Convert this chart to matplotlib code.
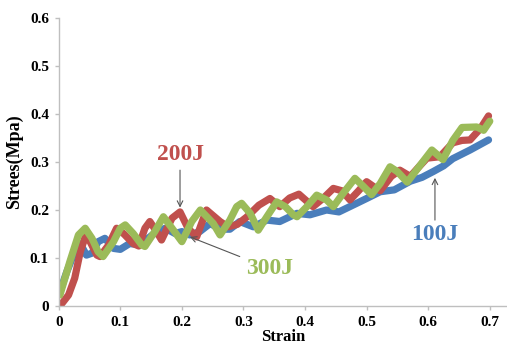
import matplotlib
matplotlib.use("Agg")
import matplotlib.pyplot as plt

# 100J (blue)
x_100 = [0.002, 0.013, 0.026, 0.035, 0.045, 0.054, 0.064, 0.075, 0.089, 0.1, 0.115, 0.13,
         0.145, 0.159, 0.173, 0.189, 0.2, 0.213, 0.229, 0.246, 0.262, 0.278, 0.294, 0.316,
         0.338, 0.359, 0.387, 0.408, 0.435, 0.455, 0.484, 0.5, 0.522, 0.545, 0.571, 0.59,
         0.608, 0.625, 0.64, 0.668, 0.698]
y_100 = [0.03, 0.071, 0.113, 0.13, 0.106, 0.11, 0.134, 0.141, 0.12, 0.118, 0.13, 0.128,
         0.141, 0.155, 0.162, 0.151, 0.155, 0.148, 0.155, 0.172, 0.16, 0.16, 0.176, 0.165,
         0.179, 0.176, 0.193, 0.19, 0.2, 0.196, 0.214, 0.224, 0.238, 0.242, 0.26, 0.268,
         0.28, 0.292, 0.307, 0.325, 0.346]

# 200J (red)
x_200 = [0.002, 0.016, 0.026, 0.035, 0.043, 0.051, 0.062, 0.067, 0.081, 0.094, 0.106, 0.121,
         0.13, 0.14, 0.148, 0.159, 0.167, 0.184, 0.197, 0.21, 0.224, 0.24, 0.262, 0.275,
         0.29, 0.305, 0.325, 0.343, 0.359, 0.375, 0.39, 0.413, 0.43, 0.446, 0.46, 0.473,
         0.487, 0.5, 0.51, 0.522, 0.54, 0.554, 0.571, 0.585, 0.598, 0.619, 0.64, 0.655,
         0.668, 0.685, 0.698]
y_200 = [0.0, 0.023, 0.058, 0.113, 0.144, 0.134, 0.106, 0.103, 0.127, 0.162, 0.15, 0.13,
         0.125, 0.162, 0.176, 0.155, 0.1375, 0.183, 0.196, 0.162, 0.144, 0.2, 0.176, 0.165,
         0.17, 0.185, 0.21, 0.224, 0.207, 0.225, 0.233, 0.207, 0.225, 0.245, 0.24, 0.221,
         0.24, 0.259, 0.25, 0.24, 0.27, 0.283, 0.27, 0.29, 0.308, 0.311, 0.34, 0.345,
         0.346, 0.37, 0.396]

# 300J (green)
x_300 = [0.002, 0.018, 0.032, 0.043, 0.054, 0.064, 0.072, 0.089, 0.1, 0.108, 0.121, 0.135,
         0.14, 0.156, 0.17, 0.184, 0.2, 0.216, 0.23, 0.251, 0.262, 0.278, 0.289, 0.297,
         0.311, 0.324, 0.338, 0.354, 0.368, 0.381, 0.387, 0.403, 0.419, 0.435, 0.446,
         0.462, 0.481, 0.495, 0.508, 0.522, 0.538, 0.55, 0.566, 0.585, 0.606, 0.624,
         0.64, 0.655, 0.679, 0.69, 0.7]
y_300 = [0.023, 0.092, 0.148, 0.162, 0.141, 0.113, 0.103, 0.134, 0.162, 0.169, 0.151, 0.127,
         0.124, 0.155, 0.186, 0.162, 0.134, 0.176, 0.2, 0.172, 0.148, 0.179, 0.207, 0.214,
         0.193, 0.158, 0.186, 0.217, 0.207, 0.19, 0.186, 0.207, 0.231, 0.221, 0.207,
         0.235, 0.266, 0.249, 0.232, 0.255, 0.29, 0.28, 0.258, 0.29, 0.325, 0.305,
         0.345, 0.372, 0.373, 0.366, 0.385]

x_ticks = [0, 0.1, 0.2, 0.3, 0.4, 0.5, 0.6, 0.7]
x_ticklabels = ["0", "0.1", "0.2", "0.3", "0.4", "0.5", "0.6", "0.7"]
y_ticks = [0, 0.1, 0.2, 0.3, 0.4, 0.5, 0.6]
y_ticklabels = ["0", "0.1", "0.2", "0.3", "0.4", "0.5", "0.6"]

BLUE = "#4A7EBB"
RED = "#C0504D"
GREEN = "#9BBB59"
GRAY = "#BFBFBF"

plt.rcParams['font.family'] = ['Liberation Serif', 'DejaVu Serif']

fig = plt.figure(figsize=(5.07, 3.49), dpi=100)
ax = fig.add_axes([0.1158, 0.1232, 0.8842, 0.8252])

lw = 5.2
for xs, ys, c in [(x_100, y_100, BLUE), (x_200, y_200, RED), (x_300, y_300, GREEN)]:
    ax.plot(xs, ys, color=c, lw=lw, solid_joinstyle='round', solid_capstyle='round')

ax.set_xlim(0, 0.728)
ax.set_ylim(0, 0.6)
ax.set_xticks(x_ticks)
ax.set_xticklabels(x_ticklabels)
ax.set_yticks(y_ticks)
ax.set_yticklabels(y_ticklabels)

for s in ["top", "right"]:
    ax.spines[s].set_visible(False)
for s in ["left", "bottom"]:
    ax.spines[s].set_color(GRAY)
    ax.spines[s].set_linewidth(1.0)

ax.tick_params(axis='both', colors=GRAY, length=3, width=1.0, direction='out', pad=4)
for lab in ax.get_xticklabels() + ax.get_yticklabels():
    lab.set_color("black")
    lab.set_fontweight("bold")
    lab.set_fontsize(11)

ax.set_xlabel("Strain", fontsize=12, fontweight="bold", labelpad=0)
ax.set_ylabel("Strees(Mpa)", fontsize=13, fontweight="bold", labelpad=5)

arrow = dict(arrowstyle="->", color="#555555", lw=0.8, shrinkA=0, shrinkB=0)
ax.annotate("", xy=(0.197, 0.205), xytext=(0.197, 0.283), arrowprops=arrow)
ax.text(0.197, 0.315, "200J", color=RED, fontsize=17, fontweight="bold", ha="center", va="center")

ax.annotate("", xy=(0.213, 0.144), xytext=(0.294, 0.103), arrowprops=arrow)
ax.text(0.343, 0.079, "300J", color=GREEN, fontsize=17, fontweight="bold", ha="center", va="center")

ax.annotate("", xy=(0.611, 0.267), xytext=(0.611, 0.179), arrowprops=arrow)
ax.text(0.611, 0.148, "100J", color=BLUE, fontsize=17, fontweight="bold", ha="center", va="center")

fig.savefig("out.png", dpi=100)
